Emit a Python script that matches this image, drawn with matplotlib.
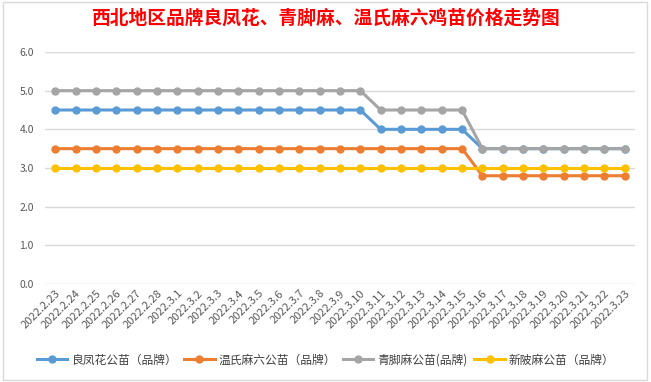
import matplotlib.pyplot as plt
from matplotlib.patches import Rectangle

plt.rcParams['font.family'] = ['Noto Sans CJK SC', 'DejaVu Sans']
plt.rcParams['axes.unicode_minus'] = False

# 日期
dates = ['2022.2.23', '2022.2.24', '2022.2.25', '2022.2.26', '2022.2.27', '2022.2.28'] + \
        ['2022.3.%d' % d for d in range(1, 24)]

# 各品种价格（元/只）
liangfeng = [4.5] * 16 + [4.0] * 5 + [3.5] * 8
wenshi = [3.5] * 21 + [2.8] * 8
qingjiao = [5.0] * 16 + [4.5] * 5 + [3.5] * 8
xinmaxian = [3.0] * 29

series_names = ['良凤花公苗（品牌）', '温氏麻六公苗（品牌）', '青脚麻公苗(品牌)', '新陂麻公苗（品牌）']
series_data = [liangfeng, wenshi, qingjiao, xinmaxian]
colors = ['#5B9BD5', '#ED7D31', '#A5A5A5', '#FFC000']

fig = plt.figure(figsize=(6.51, 3.82), dpi=100)
fig.patch.set_facecolor('white')
# 外框
fig.patches.append(Rectangle((0.004, 0.005), 0.99, 0.99, transform=fig.transFigure,
                             fill=False, edgecolor='#D9D9D9', linewidth=1))

ax = fig.add_axes([45 / 651, 1 - 284 / 382, 590 / 651, 232 / 382])
x = list(range(len(dates)))
for name, vals, c in zip(series_names, series_data, colors):
    ax.plot(x, vals, color=c, linewidth=2.2, marker='o', markersize=5, label=name)

ax.set_ylim(0, 6)
ax.set_yticks([0, 1, 2, 3, 4, 5, 6])
ax.set_yticklabels(['%.1f' % v for v in [0, 1, 2, 3, 4, 5, 6]])
ax.set_xlim(-0.5, len(dates) - 0.5)
ax.set_xticks(x)
ax.set_xticklabels(dates, rotation=45, ha='right', rotation_mode='anchor')
ax.grid(axis='y', color='#D9D9D9', linewidth=1)
ax.set_axisbelow(True)
for s in ax.spines.values():
    s.set_visible(False)
ax.tick_params(axis='both', length=0, labelsize=7.5, colors='#595959')
ax.tick_params(axis='x', labelsize=8, pad=3)
ax.tick_params(axis='y', pad=8)

fig.text(0.5, 1 - 18 / 382, '西北地区品牌良凤花、青脚麻、温氏麻六鸡苗价格走势图',
         ha='center', va='center', color='#FF0000', fontsize=13.5, fontweight='bold')

fig.legend(loc='center', bbox_to_anchor=(0.5, 1 - 360 / 382), ncol=4, frameon=False,
           fontsize=8.5, handlelength=2.6, columnspacing=0.6, handletextpad=0.3,
           labelcolor='#404040')

plt.savefig('out.png', dpi=100)
